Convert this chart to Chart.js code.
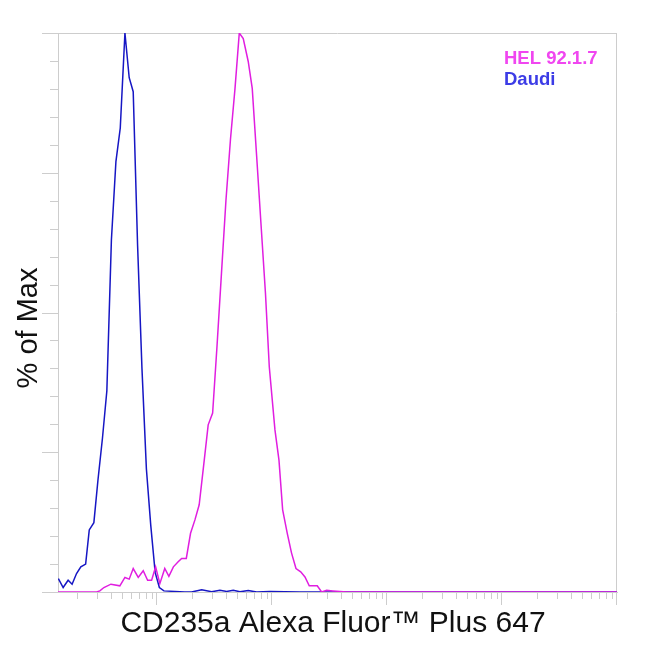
<!DOCTYPE html>
<html>
<head>
<meta charset="utf-8">
<script src="https://cdn.jsdelivr.net/npm/chart.js@4.4.1/dist/chart.umd.min.js"></script>
<style>
  html,body{margin:0;padding:0;background:#fff;}
</style>
</head>
<body>
<canvas id="chart" width="650" height="650"></canvas>
<script>
// histogram data: intensity (log axis) vs % of max
const helX = [13.8, 29.9, 31.9, 34.6, 39.8, 47.6, 52.7, 57.4, 62.2, 68.8, 76.0, 83.0, 89.9, 97.4, 106, 117, 127, 139, 153, 164, 180, 196, 214, 233, 256, 279, 305, 333, 364, 398, 436, 477, 520, 563, 622, 674, 736, 802, 878, 948, 1062, 1151, 1239, 1359, 1479, 1618, 1778, 1937, 2110, 2477, 2704, 2990, 3388, 4467, 1000000];
const helY = [0, 0, 0.2, 0.8, 1.4, 1.1, 2.6, 2.3, 4.2, 2.6, 3.8, 2.1, 2.1, 4.5, 1.5, 4.2, 2.8, 4.5, 5.4, 6.0, 6.0, 10.5, 12.9, 15.6, 23, 29.9, 32, 44, 57, 70, 81, 90, 100, 99, 94.9, 90.1, 78, 66, 53.5, 40.3, 29, 23.6, 14.7, 10.5, 7, 4.2, 3.6, 2.7, 1.1, 1.1, 0, 0.3, 0.2, 0, 0];

const daudiX = [13.9, 15.3, 16.9, 18.3, 20.0, 21.8, 24.0, 25.8, 28.3, 30.7, 33.6, 36.7, 40.2, 44.0, 48.0, 52.7, 57.4, 62.2, 67.9, 74.1, 81.0, 88.3, 96.5, 105, 115, 143, 175, 200, 245, 299, 353, 404, 461, 527, 622, 736, 961, 1750, 1000000];
const daudiY = [2.4, 0.8, 2.1, 1.4, 3.3, 4.5, 5.0, 11.1, 12.4, 20, 27.5, 36, 63, 77, 83, 100, 92, 89.5, 62, 40, 22, 12, 3.5, 0.8, 0.2, 0.1, 0, 0, 0.4, 0.05, 0.3, 0.1, 0.3, 0.05, 0.25, 0, 0.1, 0, 0];

const seriesLabels = ["HEL 92.1.7", "Daudi"];
const lineColors = ["#e01ee0", "#1616c4"];
const legendColors = ["#f046f0", "#3c3ce6"];

// axes
const yTicks = [0, 5, 10, 15, 20, 25, 30, 35, 40, 45, 50, 55, 60, 65, 70, 75, 80, 85, 90, 95, 100];
const yMajor = [0, 25, 50, 75, 100];
const xMajor = [100, 1000, 10000, 100000, 1000000];
const xMinorSteps = [2, 3, 4, 5, 6, 7, 8, 9];
const xMin = 13.8, xMax = 1000000;
const xTitle = "CD235a Alexa Fluor\u2122 Plus 647";
const yTitle = "% of Max";

const FONT = "'Liberation Sans', Arial, sans-serif";
const GRAY = "#cdcdcd";

function pts(xs, ys){ return xs.map((x,i)=>({x, y: ys[i]})); }

// tick marks, frame, titles, legend
const frameTicks = {
  id: "frameTicks",
  beforeDatasetsDraw(chart){
    const {ctx, chartArea:a, scales:{x, y}} = chart;
    ctx.save();
    ctx.strokeStyle = GRAY;
    ctx.lineWidth = 1;
    ctx.beginPath();
    yTicks.forEach(v=>{
      const py = Math.round(y.getPixelForValue(v)) + 0.5;
      const len = yMajor.includes(v) ? 16 : 8;
      ctx.moveTo(a.left - len, py); ctx.lineTo(a.left, py);
    });
    const minor = xMajor.flatMap(m=>xMinorSteps.map(s=>m*s/10));
    minor.filter(v=>v>xMin && v<xMax).forEach(v=>{
      const px = Math.round(x.getPixelForValue(v)) + 0.5;
      ctx.moveTo(px, a.bottom); ctx.lineTo(px, a.bottom + 7);
    });
    xMajor.forEach(v=>{
      const px = Math.round(x.getPixelForValue(v)) - 0.5;
      ctx.moveTo(px, a.bottom); ctx.lineTo(px, a.bottom + 13);
    });
    // top and right edge
    ctx.moveTo(a.left, a.top + 0.5); ctx.lineTo(a.right, a.top + 0.5);
    ctx.moveTo(a.right - 0.5, a.top); ctx.lineTo(a.right - 0.5, a.bottom);
    ctx.stroke();

    // axis titles
    ctx.fillStyle = "#111";
    ctx.font = "30px " + FONT;
    ctx.textAlign = "center";
    ctx.textBaseline = "alphabetic";
    ctx.fillText(xTitle, a.left + 275, a.bottom + 40);
    ctx.save();
    ctx.translate(a.left - 21, a.top + 295);
    ctx.rotate(-Math.PI/2);
    ctx.font = "29px " + FONT;
    ctx.fillText(yTitle, 0, 0);
    ctx.restore();
    ctx.restore();
  },
  afterDraw(chart){
    const {ctx, chartArea:a} = chart;
    ctx.save();
    ctx.font = "bold 18.5px " + FONT;
    ctx.textAlign = "left";
    ctx.textBaseline = "alphabetic";
    chart.data.datasets.forEach((ds,i)=>{
      ctx.fillStyle = legendColors[i];
      ctx.fillText(ds.label, a.right - 113, a.top + 30.5 + i*21.7);
    });
    ctx.restore();
  }
};

new Chart(document.getElementById("chart"), {
  type: "line",
  data: {
    datasets: [
      { label: seriesLabels[0], data: pts(helX, helY), borderColor: lineColors[0], borderWidth: 1.5, pointRadius: 0, tension: 0, fill: false },
      { label: seriesLabels[1], data: pts(daudiX, daudiY), borderColor: lineColors[1], borderWidth: 1.5, pointRadius: 0, tension: 0, fill: false }
    ]
  },
  options: {
    responsive: false,
    animation: false,
    devicePixelRatio: 1,
    layout: { padding: { top: 33, right: 33, left: 0, bottom: 0 } },
    plugins: { legend: { display: false }, tooltip: { enabled: false } },
    scales: {
      x: {
        type: "logarithmic",
        min: xMin, max: xMax,
        grid: { display: false },
        border: { color: GRAY, width: 1 },
        ticks: { display: false },
        afterFit: s => { s.height = 58; }
      },
      y: {
        min: 0, max: 100,
        grid: { display: false },
        border: { color: GRAY, width: 1 },
        ticks: { display: false },
        afterFit: s => { s.width = 58; }
      }
    }
  },
  plugins: [frameTicks]
});
</script>
</body>
</html>
